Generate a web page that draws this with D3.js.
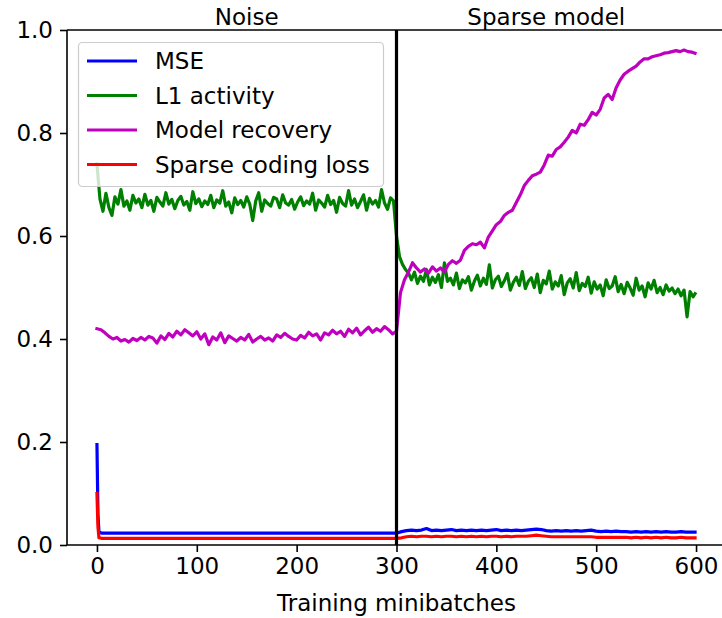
<!DOCTYPE html>
<html>
<head>
<meta charset="utf-8">
<script src="https://cdn.jsdelivr.net/npm/d3@7"></script>
<style>
  html, body { margin: 0; padding: 0; background: #fff; }
  svg text { font-family: "DejaVu Sans", sans-serif; fill: #000; }
</style>
</head>
<body>
<svg id="chart" width="722" height="618"></svg>
<script>
// ---------------- DATA ----------------
const seriesNames = ["MSE", "L1 activity", "Model recovery", "Sparse coding loss"];
const phaseTitles = ["Noise", "Sparse model"];
const phaseCenters = [150, 450];
const switchBatch = 300;
const xTicks = [0, 100, 200, 300, 400, 500, 600];
const yTicks = [0.0, 0.2, 0.4, 0.6, 0.8, 1.0];

// L1 activity, every 3 minibatches (+ last batch)
const l1Batches = d3.range(0, 600, 3).concat([599]);
const l1Values = [
  0.740, 0.672, 0.648, 0.683, 0.655, 0.640, 0.676, 0.662, 0.690, 0.658,
  0.668, 0.650, 0.679, 0.664, 0.672, 0.655, 0.681, 0.660, 0.669, 0.648,
  0.675, 0.666, 0.658, 0.684, 0.662, 0.671, 0.653, 0.669, 0.677, 0.660,
  0.667, 0.650, 0.686, 0.663, 0.672, 0.657, 0.668, 0.661, 0.679, 0.655,
  0.670, 0.664, 0.688, 0.658, 0.666, 0.645, 0.674, 0.661, 0.669, 0.656,
  0.676, 0.662, 0.630, 0.668, 0.684, 0.648, 0.670, 0.663, 0.658, 0.675,
  0.672, 0.655, 0.680, 0.664, 0.660, 0.671, 0.652, 0.666, 0.676, 0.659,
  0.668, 0.662, 0.683, 0.650, 0.670, 0.664, 0.656, 0.679, 0.661, 0.669,
  0.646, 0.675, 0.663, 0.658, 0.688, 0.660, 0.672, 0.655, 0.667, 0.680,
  0.650, 0.673, 0.662, 0.669, 0.656, 0.690, 0.664, 0.652, 0.674, 0.668,
  0.600, 0.560, 0.545, 0.535, 0.528, 0.515, 0.530, 0.508, 0.522, 0.512,
  0.535, 0.505, 0.520, 0.510, 0.525, 0.500, 0.548, 0.512, 0.518, 0.505,
  0.528, 0.498, 0.515, 0.509, 0.521, 0.495, 0.512, 0.524, 0.503, 0.518,
  0.506, 0.544, 0.499, 0.515, 0.522, 0.502, 0.513, 0.527, 0.495, 0.510,
  0.520, 0.504, 0.531, 0.498, 0.512, 0.519, 0.500, 0.526, 0.490, 0.514,
  0.507, 0.532, 0.497, 0.511, 0.503, 0.523, 0.486, 0.509, 0.517, 0.499,
  0.529, 0.494, 0.508, 0.502, 0.520, 0.489, 0.511, 0.497, 0.505, 0.484,
  0.515, 0.498, 0.503, 0.521, 0.492, 0.506, 0.488, 0.510, 0.499, 0.485,
  0.518, 0.495, 0.503, 0.482, 0.509, 0.497, 0.514, 0.490, 0.500, 0.486,
  0.505, 0.493, 0.499, 0.488, 0.497, 0.484, 0.495, 0.443, 0.492, 0.482,
  0.488
];

// Model recovery, every 4 minibatches (+ last batch)
const recBatches = d3.range(0, 600, 4).concat([599]);
const recValues = [
  0.420, 0.418, 0.412, 0.405, 0.400, 0.403, 0.396, 0.399, 0.394, 0.401,
  0.397, 0.403, 0.398, 0.405, 0.402, 0.392, 0.406, 0.399, 0.411, 0.404,
  0.415, 0.408, 0.418, 0.412, 0.406, 0.414, 0.400, 0.410, 0.389, 0.404,
  0.398, 0.412, 0.393, 0.406, 0.401, 0.396, 0.403, 0.398, 0.409, 0.394,
  0.400, 0.405, 0.398, 0.402, 0.396, 0.408, 0.403, 0.411, 0.405, 0.400,
  0.398, 0.407, 0.402, 0.413, 0.406, 0.410, 0.398, 0.412, 0.408, 0.417,
  0.410, 0.415, 0.405, 0.419, 0.412, 0.421, 0.408, 0.416, 0.423, 0.413,
  0.420, 0.415, 0.424, 0.418, 0.410,
  0.415, 0.490, 0.515, 0.530, 0.548, 0.538, 0.530, 0.536, 0.528, 0.540,
  0.532, 0.538, 0.530, 0.545, 0.552, 0.547, 0.553, 0.572, 0.580, 0.585,
  0.583, 0.588, 0.577, 0.598, 0.610, 0.622, 0.628, 0.640, 0.646, 0.650,
  0.665, 0.680, 0.698, 0.708, 0.717, 0.720, 0.724, 0.738, 0.757, 0.755,
  0.768, 0.773, 0.782, 0.792, 0.805, 0.800, 0.817, 0.815, 0.826, 0.840,
  0.835, 0.846, 0.868, 0.875, 0.865, 0.888, 0.903, 0.914, 0.920, 0.925,
  0.930, 0.938, 0.944, 0.944, 0.948, 0.950, 0.952, 0.955, 0.956, 0.958,
  0.960, 0.958, 0.961, 0.958, 0.957, 0.955
];

// MSE and sparse coding loss
const lossBatches = [0, 1, 2].concat(d3.range(5, 600, 5)).concat([599]);
const mseValues = [
  0.195, 0.060, 0.025,
  0.023, 0.023, 0.023, 0.023, 0.023, 0.023, 0.023, 0.023, 0.023, 0.023,
  0.023, 0.023, 0.023, 0.023, 0.023, 0.023, 0.023, 0.023, 0.023, 0.023,
  0.023, 0.023, 0.023, 0.023, 0.023, 0.023, 0.023, 0.023, 0.023, 0.023,
  0.023, 0.023, 0.023, 0.023, 0.023, 0.023, 0.023, 0.023, 0.023, 0.023,
  0.023, 0.023, 0.023, 0.023, 0.023, 0.023, 0.023, 0.023, 0.023, 0.023,
  0.023, 0.023, 0.023, 0.023, 0.023, 0.023, 0.023, 0.023, 0.023,
  0.023, 0.026, 0.028, 0.029, 0.028, 0.029, 0.032, 0.028, 0.029, 0.028,
  0.029, 0.030, 0.028, 0.029, 0.028, 0.029, 0.028, 0.029, 0.028, 0.029,
  0.030, 0.028, 0.029, 0.028, 0.029, 0.028, 0.029, 0.030, 0.031, 0.030,
  0.028, 0.027, 0.028, 0.027, 0.028, 0.027, 0.028, 0.027, 0.028, 0.029,
  0.027, 0.026, 0.027, 0.026, 0.027, 0.026, 0.026, 0.025, 0.026, 0.025,
  0.026, 0.025, 0.026, 0.025, 0.026, 0.025, 0.025, 0.026, 0.025, 0.025,
  0.025
];
const scValues = [
  0.100, 0.035, 0.014,
  0.013, 0.013, 0.013, 0.013, 0.013, 0.013, 0.013, 0.013, 0.013, 0.013,
  0.013, 0.013, 0.013, 0.013, 0.013, 0.013, 0.013, 0.013, 0.013, 0.013,
  0.013, 0.013, 0.013, 0.013, 0.013, 0.013, 0.013, 0.013, 0.013, 0.013,
  0.013, 0.013, 0.013, 0.013, 0.013, 0.013, 0.013, 0.013, 0.013, 0.013,
  0.013, 0.013, 0.013, 0.013, 0.013, 0.013, 0.013, 0.013, 0.013, 0.013,
  0.013, 0.013, 0.013, 0.013, 0.013, 0.013, 0.013, 0.013, 0.013,
  0.013, 0.014, 0.016, 0.017, 0.016, 0.017, 0.017, 0.016, 0.017, 0.016,
  0.017, 0.017, 0.016, 0.017, 0.016, 0.017, 0.016, 0.017, 0.016, 0.017,
  0.017, 0.016, 0.017, 0.016, 0.017, 0.017, 0.017, 0.018, 0.019, 0.018,
  0.017, 0.016, 0.016, 0.016, 0.016, 0.016, 0.016, 0.016, 0.016, 0.016,
  0.015, 0.015, 0.015, 0.015, 0.015, 0.015, 0.015, 0.014, 0.015, 0.014,
  0.015, 0.014, 0.015, 0.014, 0.015, 0.014, 0.014, 0.015, 0.014, 0.014,
  0.014
];

const colors = ["#0000ff", "#008000", "#bf00bf", "#ff0000"];

// ---------------- CHART ----------------
(function () {
const svg = d3.select("#chart");
const pLeft = 67, pRight = 726, pTop = 30, pBottom = 545;
const x = d3.scaleLinear().domain([-30, 630]).range([pLeft, pRight]);
const y = d3.scaleLinear().domain([0, 1]).range([pBottom, pTop]);
const fs = 23;
const lw = 3.2;

const series = [
  { b: lossBatches, v: mseValues },
  { b: l1Batches, v: l1Values },
  { b: recBatches, v: recValues },
  { b: lossBatches, v: scValues }
];

svg.append("defs").append("clipPath").attr("id", "clip")
  .append("rect").attr("x", pLeft).attr("y", pTop).attr("width", pRight - pLeft).attr("height", pBottom - pTop);

const plot = svg.append("g").attr("clip-path", "url(#clip)");
const line = d3.line().x(d => x(d[0])).y(d => y(d[1]));
series.forEach((s, i) => {
  plot.append("path")
    .datum(s.b.map((b, j) => [b, s.v[j]]))
    .attr("d", line)
    .attr("fill", "none")
    .attr("stroke", colors[i])
    .attr("stroke-width", lw)
    .attr("stroke-linejoin", "round")
    .attr("stroke-linecap", "square");
});

// vertical separator
svg.append("line")
  .attr("x1", x(switchBatch)).attr("x2", x(switchBatch))
  .attr("y1", pTop).attr("y2", pBottom)
  .attr("stroke", "#000").attr("stroke-width", 3.2);

// Axes
const xAxis = d3.axisBottom(x).tickValues(xTicks).tickSize(7).tickPadding(6).tickFormat(d3.format("d"));
const yAxis = d3.axisLeft(y).tickValues(yTicks).tickSize(7).tickPadding(7).tickFormat(d3.format(".1f"));

const gx = svg.append("g").attr("transform", `translate(0,${pBottom})`).call(xAxis);
const gy = svg.append("g").attr("transform", `translate(${pLeft},0)`).call(yAxis);
[gx, gy].forEach(g => {
  g.select(".domain").attr("stroke", "#000").attr("stroke-width", 1.6);
  g.selectAll(".tick line").attr("stroke", "#000").attr("stroke-width", 1.6);
  g.selectAll(".tick text").attr("font-size", fs).attr("font-family", "DejaVu Sans");
});
gx.select(".domain").attr("d", `M${pLeft},0H${pRight}`);
gy.select(".domain").attr("d", `M0,${pBottom}V${pTop}`);

// top spine
svg.append("line").attr("x1", pLeft).attr("x2", pRight).attr("y1", pTop).attr("y2", pTop)
  .attr("stroke", "#000").attr("stroke-width", 1.6);

// phase titles
phaseTitles.forEach((t, i) => {
  svg.append("text").attr("x", x(phaseCenters[i])).attr("y", 25)
    .attr("text-anchor", "middle").attr("font-size", fs).text(t);
});

// x label
svg.append("text").attr("x", x(300)).attr("y", 611)
  .attr("text-anchor", "middle").attr("font-size", fs).text("Training minibatches");

// legend
const lg = svg.append("g");
lg.append("rect").attr("x", 78.5).attr("y", 42.5).attr("width", 305).attr("height", 144)
  .attr("rx", 4).attr("fill", "#fff").attr("fill-opacity", 0.8)
  .attr("stroke", "#cccccc").attr("stroke-width", 1.2);
seriesNames.forEach((n, i) => {
  const cy = 61 + i * 34.5;
  lg.append("line").attr("x1", 87).attr("x2", 137).attr("y1", cy).attr("y2", cy)
    .attr("stroke", colors[i]).attr("stroke-width", lw);
  lg.append("text").attr("x", 155).attr("y", cy).attr("dy", "0.35em")
    .attr("font-size", fs).text(n);
});
})();
</script>
</body>
</html>
